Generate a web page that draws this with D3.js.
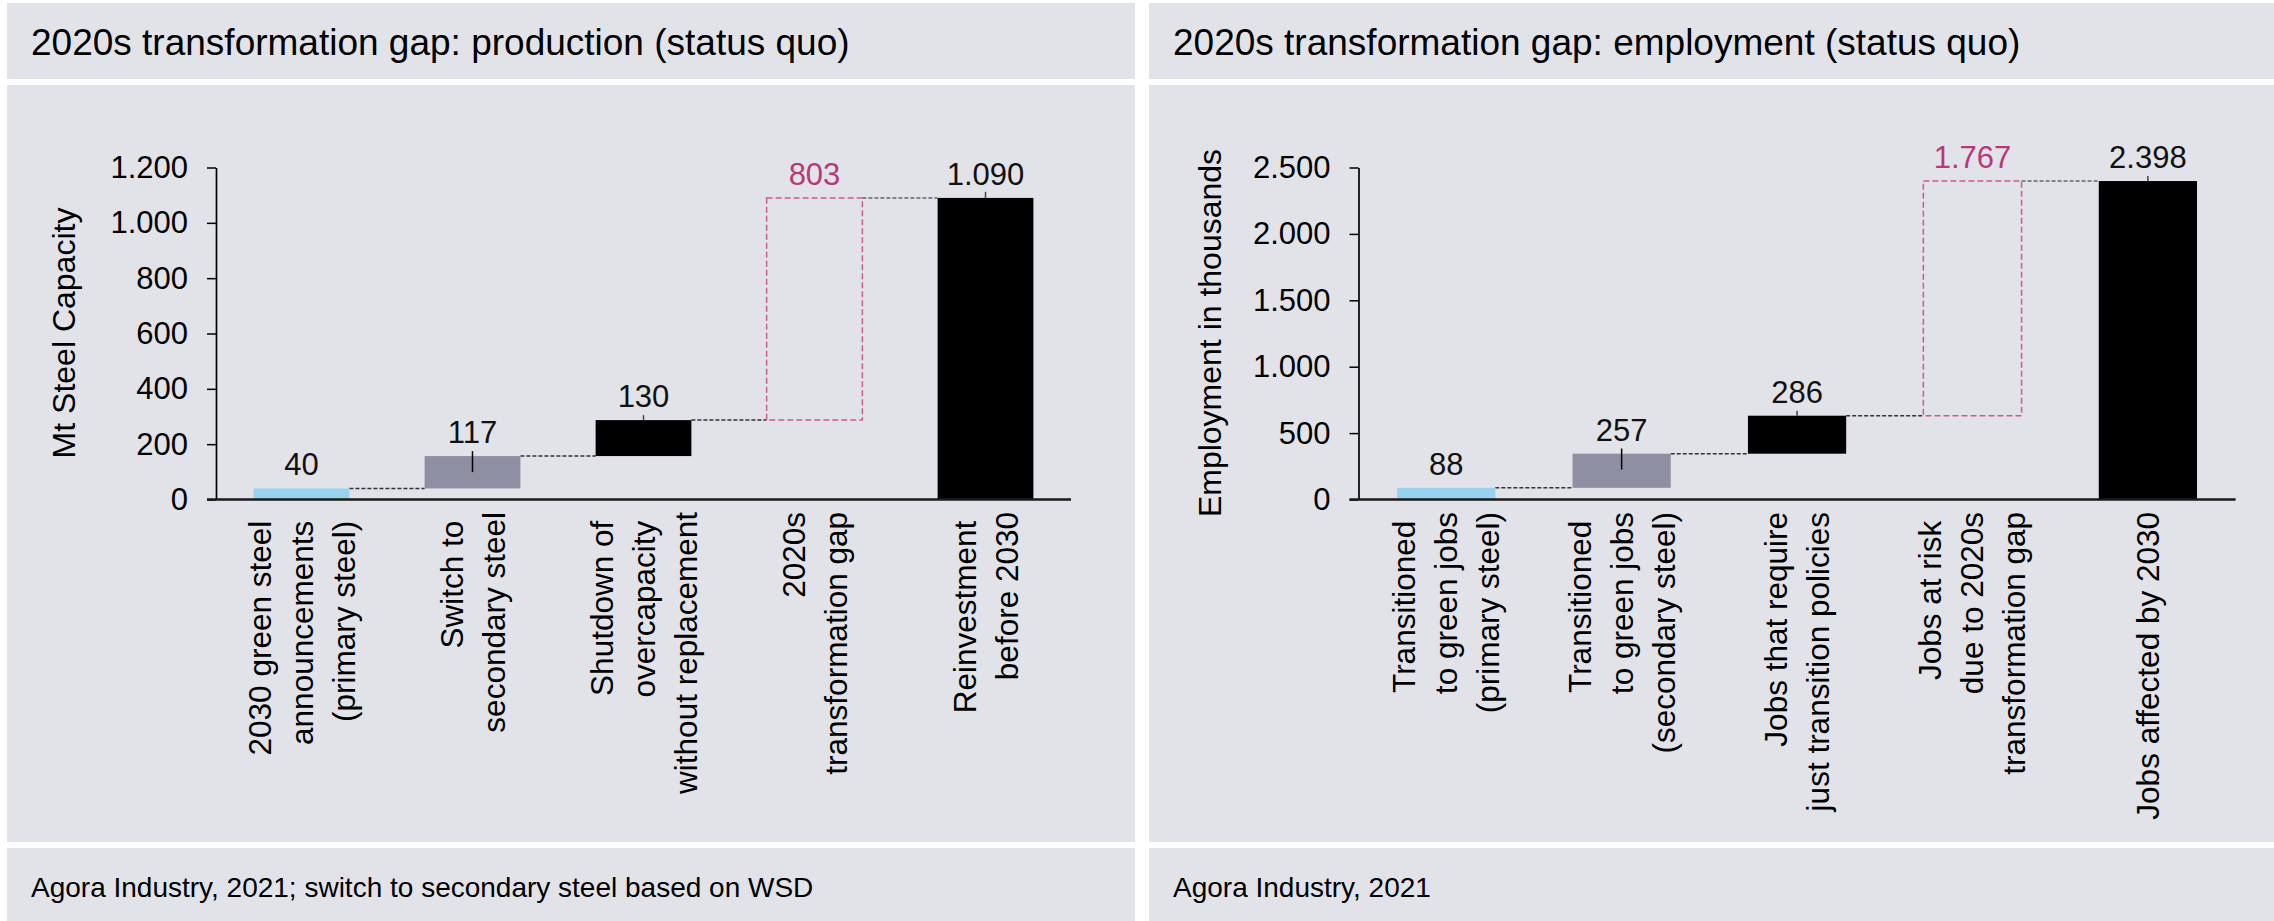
<!DOCTYPE html>
<html><head><meta charset="utf-8">
<script src="https://cdn.jsdelivr.net/npm/d3@7"></script>
<style>
html,body{margin:0;padding:0;background:#fff;}
svg{display:block;font-family:"Liberation Sans",Arial,sans-serif;}
.cat{white-space:pre;}
</style></head><body>
<svg id="chart" width="2274" height="921"></svg>
<script>
// ---------- data ----------
const prodTitle = "2020s transformation gap: production (status quo)";
const prodSource = "Agora Industry, 2021; switch to secondary steel based on WSD";
const prodAxisTitle = "Mt Steel Capacity";
const prodCategories = [
  ["2030 green steel ", "announcements ", "(primary steel) "],
  ["Switch to ", "secondary steel"],
  ["Shutdown of ", "overcapacity ", "without replacement"],
  ["2020s", "transformation gap"],
  ["Reinvestment ", "before 2030"]
];
const prodValues = [40, 117, 130, 803, 1090];
const prodTypes = ["primary", "secondary", "step", "gap", "total"];
const prodWhiskerLow = [null, 99, 287, null, 1090];
const prodWhiskerHigh = [null, 175, 305, null, 1112];
const prodTicks = [0, 200, 400, 600, 800, 1000, 1200];

const empTitle = "2020s transformation gap: employment (status quo)";
const empSource = "Agora Industry, 2021";
const empAxisTitle = "Employment in thousands";
const empCategories = [
  ["Transitioned ", "to green jobs", "(primary steel)"],
  ["Transitioned ", "to green jobs", "(secondary steel)"],
  ["Jobs that require", "just transition policies"],
  ["Jobs at risk ", "due to 2020s", "transformation gap"],
  ["Jobs affected by 2030"]
];
const empValues = [88, 257, 286, 1767, 2398];
const empTypes = ["primary", "secondary", "step", "gap", "total"];
const empWhiskerLow = [null, 226, 631, null, 2398];
const empWhiskerHigh = [null, 384, 669, null, 2436];
const empTicks = [0, 500, 1000, 1500, 2000, 2500];

// ---------- styles ----------
const BG = "#e2e3e8";
const colors = {primary: "#97d2ee", secondary: "#8f8fa3", step: "#000000", total: "#000000"};
const PINK_TEXT = "#b83878";
const PINK_LINE = "#cd5a91";

const fmt = d3.formatLocale({decimal: ",", thousands: ".", grouping: [3], currency: ["", ""]}).format(",d");
const svg = d3.select("#chart");

function drawPanel(cfg) {
  const g = svg.append("g");
  g.append("rect").attr("x", cfg.x0).attr("y", 3).attr("width", cfg.w).attr("height", 76).attr("fill", BG);
  g.append("rect").attr("x", cfg.x0).attr("y", 85).attr("width", cfg.w).attr("height", 757).attr("fill", BG);
  g.append("rect").attr("x", cfg.x0).attr("y", 848).attr("width", cfg.w).attr("height", 73).attr("fill", BG);
  g.append("text").attr("x", cfg.x0 + 24).attr("y", 55).attr("font-size", 37).attr("fill", "#000").text(cfg.title);
  g.append("text").attr("x", cfg.x0 + 24).attr("y", 897).attr("font-size", 28).attr("fill", "#000").text(cfg.source);

  const n = cfg.values.length;
  const x = d3.scaleBand().domain(d3.range(n)).range([cfg.left, cfg.right]).paddingInner(0.44).paddingOuter(0.22);
  const y = d3.scaleLinear().domain([0, cfg.max]).range([499.5, 167.5]);
  const bw = x.bandwidth();

  let cum = 0;
  const bars = cfg.values.map((v, i) => {
    const t = cfg.types[i];
    let b, top;
    if (t === "total") { b = 0; top = v; }
    else { b = cum; top = cum + v; cum = top; }
    return {i, v, t, b, top};
  });

  // connectors
  for (let i = 0; i < n - 1; i++) {
    g.append("line")
      .attr("x1", x(i) + bw).attr("x2", x(i + 1))
      .attr("y1", y(bars[i].top)).attr("y2", y(bars[i].top))
      .attr("stroke", bars[i].t === "gap" ? "#666" : "#333")
      .attr("stroke-width", 1.5).attr("stroke-dasharray", "4,2");
  }

  // bars
  bars.forEach(d => {
    if (d.t === "gap") {
      g.append("rect").attr("x", x(d.i)).attr("width", bw)
        .attr("y", y(d.top)).attr("height", y(d.b) - y(d.top))
        .attr("fill", "none").attr("stroke", PINK_LINE).attr("stroke-width", 1.5)
        .attr("stroke-dasharray", "6,3");
    } else {
      g.append("rect").attr("x", x(d.i)).attr("width", bw)
        .attr("y", y(d.top)).attr("height", y(d.b) - y(d.top))
        .attr("fill", colors[d.t]);
    }
  });

  // whiskers
  bars.forEach(d => {
    const lo = cfg.wLow[d.i], hi = cfg.wHigh[d.i];
    if (lo == null) return;
    g.append("line").attr("x1", x(d.i) + bw / 2).attr("x2", x(d.i) + bw / 2)
      .attr("y1", y(lo)).attr("y2", y(hi))
      .attr("stroke", d.t === "secondary" ? "#000" : "#444").attr("stroke-width", 1.5);
  });

  // value labels
  bars.forEach(d => {
    g.append("text").attr("x", x(d.i) + bw / 2).attr("y", y(d.top) - 13)
      .attr("text-anchor", "middle").attr("font-size", 31)
      .attr("fill", d.t === "gap" ? PINK_TEXT : "#111").text(fmt(d.v));
  });

  // y axis
  const ya = g.append("g").attr("transform", `translate(${cfg.left},0)`)
    .call(d3.axisLeft(y).tickValues(cfg.ticks).tickSize(9).tickPadding(19).tickSizeOuter(0).tickFormat(fmt));
  ya.attr("font-family", null).attr("font-size", 31);
  ya.selectAll("text").attr("fill", "#000");
  ya.select(".domain").attr("stroke", "#000").attr("stroke-width", 1.7);
  ya.selectAll(".tick line").attr("stroke", "#000").attr("stroke-width", 1.5);

  // x axis baseline
  g.append("line").attr("x1", cfg.left - 9).attr("x2", cfg.right)
    .attr("y1", y(0)).attr("y2", y(0)).attr("stroke", "#1a1a1a").attr("stroke-width", 2.5);

  // y axis title
  g.append("text").attr("transform", `translate(${cfg.titleX},333) rotate(-90)`)
    .attr("text-anchor", "middle").attr("font-size", 32).attr("fill", "#000").text(cfg.axisTitle);

  // category labels
  cfg.categories.forEach((lines, i) => {
    const cx = x(i) + bw / 2;
    const tg = g.append("g").attr("transform", `translate(${cx},512) rotate(-90)`);
    const m = lines.length;
    lines.forEach((ln, j) => {
      tg.append("text").attr("class", "cat")
        .attr("x", 0).attr("y", (j - (m - 1) / 2) * 42 + 11)
        .attr("text-anchor", "end").attr("font-size", 31.5).attr("fill", "#000").text(ln);
    });
  });
}

drawPanel({x0: 7, w: 1128, title: prodTitle, source: prodSource, axisTitle: prodAxisTitle,
  categories: prodCategories, values: prodValues, types: prodTypes, wLow: prodWhiskerLow, wHigh: prodWhiskerHigh,
  ticks: prodTicks, max: 1200, left: 216, right: 1071, titleX: 75});
drawPanel({x0: 1149, w: 1125, title: empTitle, source: empSource, axisTitle: empAxisTitle,
  categories: empCategories, values: empValues, types: empTypes, wLow: empWhiskerLow, wHigh: empWhiskerHigh,
  ticks: empTicks, max: 2500, left: 1358.5, right: 2235.6, titleX: 1221});
</script>
</body></html>
